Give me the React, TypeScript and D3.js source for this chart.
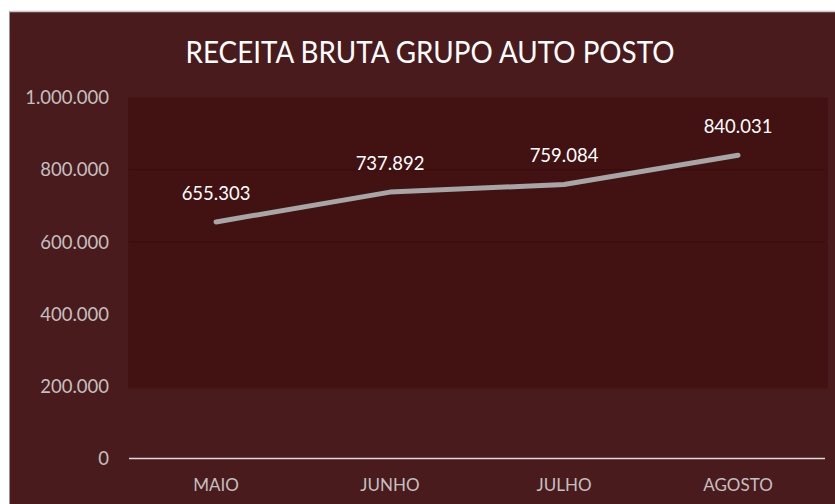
import React from "react";
import * as d3 from "d3";

const months = ["MAIO", "JUNHO", "JULHO", "AGOSTO"];
const revenue = [655303, 737892, 759084, 840031];
const yTicks = [0, 200000, 400000, 600000, 800000, 1000000];
const gridTicks = [600000, 800000];
const title = "RECEITA BRUTA GRUPO AUTO POSTO";

const W = 835;
const H = 504;
const FONT = "Lato, 'Open Sans', sans-serif";

const fmt = (v: number) => {
  if (v === 0) return "0";
  return d3.format(",")(v).replace(/,/g, ".");
};

export default function App() {
  const y = d3.scaleLinear().domain([0, 1000000]).range([458.5, 97.5]);
  const x = d3.scaleBand().domain(months).range([129, 825]).padding(0);
  const cx = (m: string) => (x(m) as number) + x.bandwidth() / 2;

  const line = d3
    .line<number>()
    .x((_, i) => cx(months[i]))
    .y((d) => y(d));

  return (
    <svg
      width={W}
      height={H}
      style={{ position: "absolute", left: 0, top: 0, display: "block" }}
    >
      <rect x={0} y={0} width={W} height={H} fill="#ffffff" />
      <rect x={9.5} y={11} width={W - 9.5} height={H - 11} fill="#4a1b1d" />
      <line x1={9.5} x2={W} y1={11.5} y2={11.5} stroke="#c8c8c8" strokeWidth={1.5} />
      <rect
        x={128}
        y={y(1000000)}
        width={700}
        height={y(200000) - y(1000000) + 2}
        fill="#421112"
      />
      {gridTicks.map((t) => (
        <line
          key={"g" + t}
          x1={129}
          x2={825}
          y1={y(t)}
          y2={y(t)}
          stroke="#3a0c0d"
          strokeWidth={1}
        />
      ))}
      <line x1={129} x2={825} y1={y(0)} y2={y(0)} stroke="#d9d9d9" strokeWidth={1.5} />
      {yTicks.map((t) => (
        <text
          key={"t" + t}
          x={109}
          y={y(t)}
          dy="0.36em"
          textAnchor="end"
          fill="#c4c0c0"
          fontFamily={FONT}
          fontSize={18.5}
        >
          {fmt(t)}
        </text>
      ))}
      {months.map((m) => (
        <text
          key={m}
          x={cx(m)}
          y={491}
          textAnchor="middle"
          fill="#c4c0c0"
          fontFamily={FONT}
          fontSize={17}
        >
          {m}
        </text>
      ))}
      <path
        d={line(revenue) || ""}
        fill="none"
        stroke="#a6a6a6"
        strokeWidth={5}
        strokeLinecap="round"
        strokeLinejoin="round"
      />
      {revenue.map((v, i) => (
        <text
          key={"l" + i}
          x={cx(months[i])}
          y={y(v) - 22}
          textAnchor="middle"
          fill="#ffffff"
          fontFamily={FONT}
          fontSize={18.5}
        >
          {fmt(v)}
        </text>
      ))}
      <text
        x={430}
        y={63}
        textAnchor="middle"
        fill="#ffffff"
        fontFamily={FONT}
        fontSize={30}
        textLength={489}
        lengthAdjust="spacingAndGlyphs"
      >
        {title}
      </text>
    </svg>
  );
}
